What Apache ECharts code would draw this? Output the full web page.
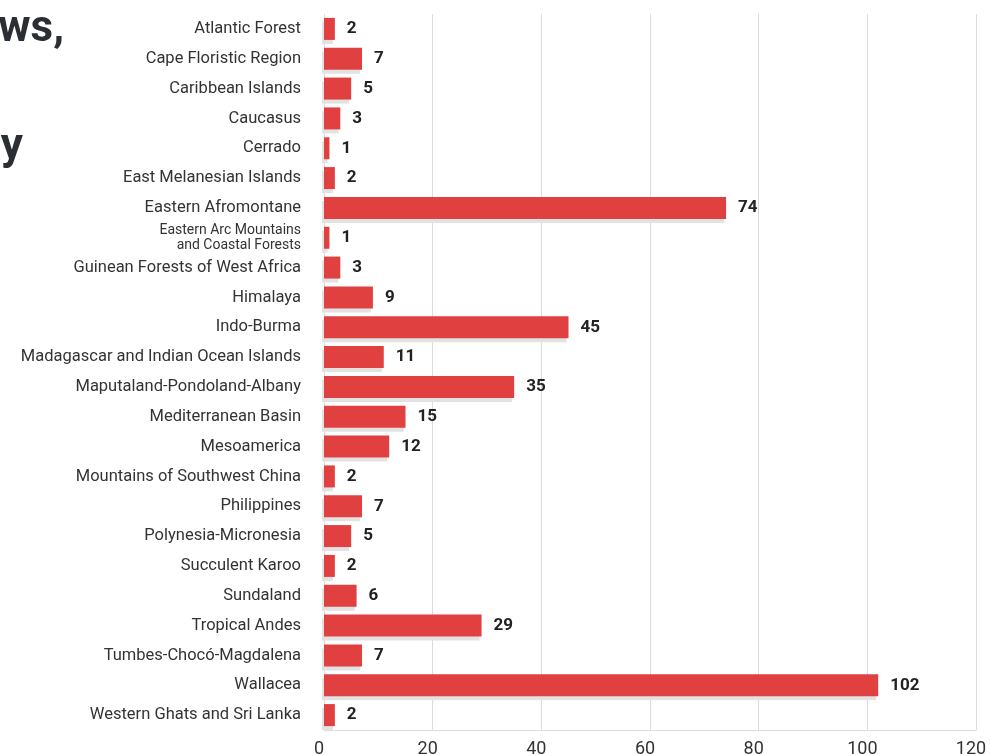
<!DOCTYPE html>
<html>
<head>
<meta charset="utf-8">
<script src="https://cdn.jsdelivr.net/npm/echarts@6/dist/echarts.min.js"></script>
<style>
html,body{margin:0;padding:0;background:#fff;}
#chart{width:990px;height:754px;}
</style>
</head>
<body>
<div id="chart"></div>
<script>
const categories = [
  'Atlantic Forest','Cape Floristic Region','Caribbean Islands','Caucasus','Cerrado',
  'East Melanesian Islands','Eastern Afromontane','Eastern Arc Mountains\nand Coastal Forests',
  'Guinean Forests of West Africa','Himalaya','Indo-Burma','Madagascar and Indian Ocean Islands',
  'Maputaland-Pondoland-Albany','Mediterranean Basin','Mesoamerica','Mountains of Southwest China',
  'Philippines','Polynesia-Micronesia','Succulent Karoo','Sundaland','Tropical Andes',
  'Tumbes-Chocó-Magdalena','Wallacea','Western Ghats and Sri Lanka'
];
const values = [2,7,5,3,1,2,74,1,3,9,45,11,35,15,12,2,7,5,2,6,29,7,102,2];
const xTicks = [0,20,40,60,80,100,120];

const chart = echarts.init(document.getElementById('chart'));
const FONT = 'Roboto, "Noto Sans", sans-serif';
chart.setOption({
  animation: false,
  graphic: [
    {type:'text', x: 64, y: 8, style:{text:'aws,', align:'right', verticalAlign:'top', font:'bold 44px ' + FONT, fill:'#2b2f33'}},
    {type:'text', x: 23, y: 126, style:{text:'y', align:'right', verticalAlign:'top', font:'bold 44px ' + FONT, fill:'#2b2f33'}}
  ],
  grid: {left: 324, right: 14, top: 14, bottom: 24, containLabel: false, outerBoundsMode: 'none'},
  xAxis: {
    type: 'value', min: 0, max: 120, interval: 20,
    axisLine: {show: true, lineStyle: {color: '#dcdcdc', width: 1}},
    axisTick: {show: false},
    splitLine: {show: true, lineStyle: {color: '#dcdcdc', width: 1}},
    axisLabel: {color: '#333', fontSize: 18, fontFamily: FONT, margin: 10, padding: [0, 10, 0, 0],
      formatter: v => xTicks.includes(v) ? String(v) : ''}
  },
  yAxis: {
    type: 'category', data: categories, inverse: true,
    axisLine: {show: false}, axisTick: {show: false},
    axisLabel: {
      color: '#333', fontSize: 16.5, fontFamily: FONT, margin: 23,
      formatter: v => v.indexOf('\n') >= 0 ? '{s|' + v.split('\n').join('}\n{s|') + '}' : v,
      rich: {s: {fontSize: 14, lineHeight: 15, color: '#333', fontFamily: FONT}}
    }
  },
  series: [{
    type: 'bar', data: values, barWidth: 22,
    itemStyle: {color: '#e14040', shadowColor: '#e2e2e2', shadowOffsetY: 4, shadowOffsetX: -2, shadowBlur: 0},
    label: {show: true, position: 'right', distance: 12, color: '#222', fontSize: 17, fontWeight: 'bold', fontFamily: FONT}
  }]
});
</script>
</body>
</html>
